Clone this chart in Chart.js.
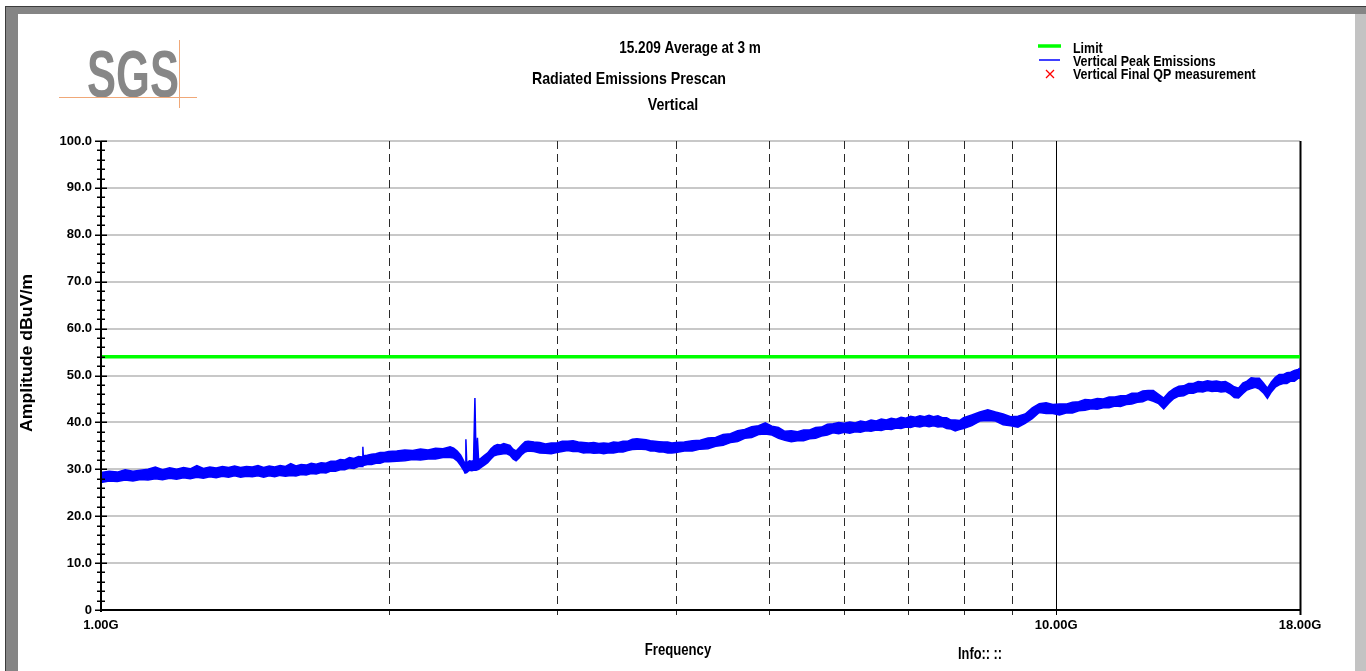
<!DOCTYPE html>
<html>
<head>
<meta charset="utf-8">
<title>Radiated Emissions Prescan</title>
<script src="https://cdn.jsdelivr.net/npm/chart.js@4.4.1/dist/chart.umd.min.js"></script>
<style>
    html, body { margin: 0; padding: 0; background: #fff; }
    #scanChart { display: block; }
</style>
</head>
<body>
<canvas id="scanChart" width="1366" height="671"></canvas>
<script>
// peak sweep bins, frequency in GHz
var peakFreq = [
    1.00, 1.02, 1.04, 1.06, 1.08, 1.10, 1.12, 1.14, 1.16, 1.18,
    1.20, 1.22, 1.24, 1.26, 1.28, 1.30, 1.32, 1.34, 1.36, 1.38,
    1.40, 1.42, 1.44, 1.46, 1.48, 1.50, 1.52, 1.54, 1.56, 1.58,
    1.60, 1.62, 1.64, 1.66, 1.68, 1.70, 1.72, 1.74, 1.76, 1.78,
    1.80, 1.82, 1.84, 1.86, 1.878, 1.880, 1.882, 1.90, 1.92, 1.94, 1.96, 1.98,
    2.00,
    2.04, 2.08, 2.12, 2.16, 2.20, 2.24, 2.28, 2.32, 2.34, 2.36,
    2.38, 2.40, 2.405, 2.41, 2.415, 2.43, 2.445, 2.455, 2.463, 2.47,
    2.478, 2.485, 2.50, 2.52, 2.54, 2.56, 2.58, 2.60, 2.62, 2.64,
    2.66, 2.68, 2.70, 2.72, 2.74, 2.76, 2.78, 2.80, 2.84, 2.88,
    2.92, 2.96, 3.00, 3.04, 3.08, 3.12, 3.16, 3.20, 3.24, 3.28,
    3.32, 3.36, 3.40, 3.44, 3.48, 3.52, 3.56, 3.60, 3.64, 3.68,
    3.72, 3.76, 3.80, 3.84, 3.88, 3.92, 3.96, 4.00,
    4.08, 4.16, 4.24, 4.32, 4.40, 4.48, 4.56, 4.64, 4.72, 4.80,
    4.88, 4.96, 5.04, 5.12, 5.20, 5.28, 5.36, 5.44, 5.52, 5.60,
    5.68, 5.76, 5.84, 5.92, 6.00, 6.08, 6.16, 6.24, 6.32, 6.40,
    6.48, 6.56, 6.64, 6.72, 6.80, 6.88, 6.96, 7.04, 7.12, 7.20,
    7.28, 7.36, 7.44, 7.52, 7.60, 7.68, 7.76, 7.84, 7.92, 8.00,
    8.16, 8.32, 8.48, 8.64, 8.80, 8.96, 9.12, 9.28, 9.44, 9.60,
    9.76, 9.92, 10.08, 10.24, 10.40, 10.56, 10.72, 10.88, 11.04, 11.20,
    11.36, 11.52, 11.68, 11.84, 12.00, 12.16, 12.32, 12.48, 12.64, 12.80,
    12.96, 13.12, 13.28, 13.44, 13.60, 13.76, 13.92, 14.08, 14.24, 14.40,
    14.56, 14.72, 14.88, 15.04, 15.20, 15.36, 15.52, 15.68, 15.84, 16.00,
    16.16, 16.32, 16.48, 16.64, 16.80, 16.96, 17.12, 17.28, 17.44, 17.60,
    17.76, 17.92, 18.00
];

// highest reading in each bin, dBuV/m
var peakHigh = [
    29.3, 29.6, 29.4, 29.9, 29.6, 29.8, 30.0, 30.5, 29.9, 30.3,
    30.0, 30.4, 30.1, 30.8, 30.2, 30.5, 30.3, 30.6, 30.4, 30.7,
    30.4, 30.6, 30.5, 30.8, 30.4, 30.7, 30.5, 30.8, 30.6, 31.2,
    30.7, 31.0, 30.9, 31.3, 31.1, 31.4, 31.3, 31.7, 31.7, 32.1,
    32.0, 32.5, 32.3, 32.7, 32.6, 34.8, 32.9, 33.0, 33.2, 33.3, 33.6, 33.6,
    33.8,
    33.9, 34.1, 34.0, 34.3, 34.1, 34.5, 34.4, 34.8, 34.5, 33.9,
    33.0, 31.6, 31.2, 36.4, 31.3, 31.8, 31.7, 31.9, 45.2, 31.8,
    36.7, 32.0, 32.4, 33.0, 33.5, 34.4, 35.0, 35.3, 35.2, 35.5,
    35.3, 35.1, 34.3, 33.9, 34.6, 35.3, 35.9, 36.0, 35.8, 35.7,
    35.4, 35.6, 35.6, 36.0, 36.0, 36.1, 35.8, 35.7, 35.6, 35.7,
    35.5, 35.6, 35.5, 35.8, 35.7, 36.0, 36.0, 36.4, 36.5, 36.4,
    36.3, 36.1, 36.0, 35.9, 35.8, 35.8, 35.6, 35.7,
    35.8, 36.1, 36.2, 36.7, 36.8, 37.4, 37.6, 38.2, 38.5, 39.1,
    39.3, 39.9, 39.2, 38.9, 38.1, 38.2, 38.0, 38.4, 38.4, 38.9,
    39.0, 39.6, 39.7, 40.0, 39.8, 40.1, 39.9, 40.3, 40.1, 40.5,
    40.3, 40.7, 40.5, 40.9, 40.7, 41.1, 40.9, 41.3, 41.1, 41.4,
    41.2, 41.5, 41.2, 41.4, 41.0, 41.0, 40.5, 40.5, 40.4, 41.0,
    41.6, 42.2, 42.7, 42.2, 41.8, 41.2, 41.3, 41.8, 43.1, 44.0,
    44.2, 43.8, 43.9, 43.9, 44.3, 44.4, 44.9, 44.8, 45.1, 45.0,
    45.4, 45.4, 45.7, 45.7, 46.2, 46.2, 46.7, 46.8, 46.8, 46.0,
    45.2, 46.4, 47.2, 47.7, 47.8, 48.3, 48.3, 48.7, 48.6, 48.9,
    48.7, 48.8, 48.6, 48.7, 48.2, 47.6, 47.3, 48.4, 48.8, 49.5,
    49.4, 49.4, 48.4, 47.3, 48.6, 49.6, 50.2, 50.2, 50.6, 50.7,
    51.1, 51.3, 51.6
];

// lowest reading in each bin, dBuV/m
var peakLow = [
    27.2, 27.5, 27.4, 27.7, 27.5, 27.8, 27.7, 28.0, 27.8, 28.1,
    27.9, 28.2, 28.0, 28.3, 28.1, 28.4, 28.2, 28.5, 28.3, 28.6,
    28.3, 28.5, 28.4, 28.6, 28.3, 28.6, 28.4, 28.7, 28.5, 28.7,
    28.6, 28.9, 28.8, 29.1, 29.0, 29.3, 29.2, 29.6, 29.6, 29.9,
    29.9, 30.3, 30.2, 30.6, 30.6, 30.7, 30.8, 31.0, 31.0, 31.3, 31.3, 31.6,
    31.6,
    31.7, 31.8, 32.1, 32.0, 32.2, 32.2, 32.5, 32.5, 32.4, 31.8,
    30.8, 29.6, 29.2, 29.2, 29.3, 29.8, 29.7, 29.8, 29.8, 29.8,
    29.9, 30.0, 30.4, 30.9, 31.4, 32.2, 32.9, 33.1, 33.2, 33.3,
    33.3, 33.0, 32.2, 31.8, 32.4, 33.2, 33.7, 33.9, 33.8, 33.5,
    33.4, 33.3, 33.6, 33.8, 34.0, 33.8, 33.8, 33.5, 33.6, 33.4,
    33.5, 33.3, 33.5, 33.5, 33.7, 33.7, 34.0, 34.2, 34.3, 34.3,
    34.2, 33.9, 33.9, 33.7, 33.7, 33.5, 33.5, 33.6,
    33.9, 33.9, 34.3, 34.4, 34.9, 35.1, 35.7, 35.9, 36.6, 36.8,
    37.4, 37.5, 37.3, 36.6, 36.2, 35.9, 36.1, 36.1, 36.5, 36.6,
    37.1, 37.3, 37.8, 37.6, 37.9, 37.7, 38.0, 37.9, 38.2, 38.1,
    38.4, 38.3, 38.6, 38.5, 38.8, 38.7, 39.0, 38.9, 39.2, 39.0,
    39.3, 39.1, 39.3, 39.0, 39.1, 38.7, 38.6, 38.2, 38.5, 38.7,
    39.3, 40.3, 40.4, 40.3, 39.5, 39.3, 39.0, 39.8, 40.8, 42.1,
    41.9, 41.9, 41.6, 42.0, 42.0, 42.5, 42.6, 42.9, 42.8, 43.1,
    43.1, 43.5, 43.4, 43.8, 43.9, 44.3, 44.4, 44.9, 44.5, 44.0,
    42.9, 44.1, 45.1, 45.6, 45.7, 46.2, 46.2, 46.6, 46.5, 46.8,
    46.6, 46.7, 46.5, 46.6, 46.1, 45.3, 45.2, 46.1, 46.9, 47.2,
    47.5, 47.1, 46.3, 45.1, 46.5, 47.5, 48.0, 48.3, 48.3, 48.8,
    48.8, 49.4, 49.4
];

var limitFreq = [1, 18];
var limitLevel = [54, 54];

// no final QP readings taken on this scan
var qpFreq = [];
var qpLevel = [];

var freqTicks = [1, 2, 3, 4, 5, 6, 7, 8, 9, 10, 18];
var freqLabels = { 1: '1.00G', 10: '10.00G', 18: '18.00G' };
var ampTicks = [0, 10, 20, 30, 40, 50, 60, 70, 80, 90, 100];

var FONT = 'Liberation Sans, Arial, sans-serif';

function points(xs, ys) {
    return xs.map(function (x, i) {
        return { x: x, y: ys[i] };
    });
}

// narrow bold text, squeezed horizontally
function drawLabel(ctx, text, x, y, size, squeeze, align) {
    ctx.save();
    ctx.font = 'bold ' + size + 'px ' + FONT;
    ctx.textBaseline = 'middle';
    ctx.textAlign = 'left';
    var w = ctx.measureText(text).width * squeeze;
    var left = align === 'center' ? x - w / 2 : (align === 'right' ? x - w : x);
    ctx.translate(left, y);
    ctx.scale(squeeze, 1);
    ctx.fillText(text, 0, 0);
    ctx.restore();
}

var scanDecor = {
    id: 'scanDecor',
    beforeDraw: function (chart) {
        var ctx = chart.ctx;
        ctx.save();
        ctx.fillStyle = '#ffffff';
        ctx.fillRect(0, 0, chart.width, chart.height);

        // window frame
        ctx.fillStyle = '#3c3c3c';
        ctx.fillRect(5, 6, 1361, 1);
        ctx.fillRect(5, 6, 1, 665);
        ctx.fillStyle = '#858585';
        ctx.fillRect(6, 7, 1360, 7);
        ctx.fillRect(6, 7, 12, 664);
        ctx.fillStyle = '#c3c3c3';
        ctx.fillRect(1355, 14, 11, 657);

        // logo
        ctx.fillStyle = '#878787';
        ctx.save();
        ctx.font = 'bold 66px ' + FONT;
        ctx.textBaseline = 'alphabetic';
        ctx.translate(87, 97);
        ctx.scale(0.66, 1);
        ctx.fillText('SGS', 0, 0);
        ctx.restore();
        ctx.strokeStyle = '#f0a878';
        ctx.lineWidth = 1;
        ctx.beginPath();
        ctx.moveTo(59, 97.5);
        ctx.lineTo(197, 97.5);
        ctx.moveTo(179.5, 40);
        ctx.lineTo(179.5, 108);
        ctx.stroke();

        // headings
        ctx.fillStyle = '#000000';
        drawLabel(ctx, '15.209 Average at 3 m', 690, 49, 16, 0.85, 'center');
        drawLabel(ctx, 'Radiated Emissions Prescan', 629, 79, 17, 0.835, 'center');
        drawLabel(ctx, 'Vertical', 673, 105, 17, 0.835, 'center');

        // legend
        ctx.lineCap = 'butt';
        ctx.strokeStyle = '#00ff00';
        ctx.lineWidth = 3.5;
        ctx.beginPath();
        ctx.moveTo(1038, 46);
        ctx.lineTo(1061, 46);
        ctx.stroke();
        ctx.strokeStyle = '#0000ff';
        ctx.lineWidth = 1.5;
        ctx.beginPath();
        ctx.moveTo(1039, 60);
        ctx.lineTo(1060, 60);
        ctx.stroke();
        ctx.strokeStyle = '#ff0000';
        ctx.lineWidth = 1.3;
        ctx.beginPath();
        ctx.moveTo(1046, 70);
        ctx.lineTo(1054, 78);
        ctx.moveTo(1054, 70);
        ctx.lineTo(1046, 78);
        ctx.stroke();
        drawLabel(ctx, 'Limit', 1073, 49, 15, 0.83, 'left');
        drawLabel(ctx, 'Vertical Peak Emissions', 1073, 62, 15, 0.83, 'left');
        drawLabel(ctx, 'Vertical Final QP measurement', 1073, 75, 15, 0.83, 'left');

        // axis titles
        drawLabel(ctx, 'Frequency', 678, 651, 16, 0.82, 'center');
        drawLabel(ctx, 'Info:: ::', 958, 655, 16, 0.8, 'left');
        ctx.save();
        ctx.translate(27, 353);
        ctx.rotate(-Math.PI / 2);
        drawLabel(ctx, 'Amplitude dBuV/m', 0, 0, 17, 1.04, 'center');
        ctx.restore();
        ctx.restore();
    },
    beforeDatasetsDraw: function (chart) {
        var ctx = chart.ctx;
        var xs = chart.scales.x;
        var area = chart.chartArea;
        ctx.save();
        freqTicks.forEach(function (f) {
            if (f === 1) {
                return;
            }
            var solid = f === 10 || f === 18;
            var px = Math.round(xs.getPixelForValue(f)) + 0.5;
            ctx.setLineDash(solid ? [] : [8, 5]);
            ctx.strokeStyle = solid ? '#000000' : '#2a2a2a';
            ctx.lineWidth = f === 18 ? 2 : 1;
            ctx.beginPath();
            ctx.moveTo(px, area.top);
            ctx.lineTo(px, area.bottom);
            ctx.stroke();
            // tick below the axis
            ctx.setLineDash([]);
            ctx.beginPath();
            ctx.moveTo(px, area.bottom);
            ctx.lineTo(px, area.bottom + 5);
            ctx.stroke();
        });
        ctx.restore();
    },
    afterDatasetsDraw: function (chart) {
        var ctx = chart.ctx;
        var ys = chart.scales.y;
        var area = chart.chartArea;
        ctx.save();
        ctx.strokeStyle = '#000000';
        ctx.lineWidth = 2;
        ctx.beginPath();
        ctx.moveTo(area.left, area.top);
        ctx.lineTo(area.left, area.bottom + 2);
        ctx.moveTo(area.left, area.bottom);
        ctx.lineTo(area.right + 1, area.bottom);
        ctx.stroke();

        // major and minor amplitude ticks
        ctx.lineWidth = 1.5;
        for (var v = 0; v <= 100; v += 2) {
            var py = Math.round(ys.getPixelForValue(v)) + 0.25;
            var half = v % 10 === 0 ? 6 : 4;
            ctx.beginPath();
            ctx.moveTo(area.left - half, py);
            ctx.lineTo(area.left + half, py);
            ctx.stroke();
        }
        ctx.restore();
    }
};

new Chart(document.getElementById('scanChart'), {
    type: 'line',
    data: {
        datasets: [{
            label: 'Limit',
            data: points(limitFreq, limitLevel),
            borderColor: '#00ff00',
            borderWidth: 3.5,
            pointRadius: 0,
            fill: false
        }, {
            label: 'Vertical Peak Emissions (low)',
            data: points(peakFreq, peakLow),
            borderColor: '#0000ff',
            borderWidth: 1.5,
            pointRadius: 0,
            fill: false
        }, {
            label: 'Vertical Peak Emissions',
            data: points(peakFreq, peakHigh),
            borderColor: '#0000ff',
            backgroundColor: '#0000ff',
            borderWidth: 1.5,
            pointRadius: 0,
            fill: '-1'
        }, {
            label: 'Vertical Final QP measurement',
            data: points(qpFreq, qpLevel),
            showLine: false,
            pointStyle: 'crossRot',
            pointRadius: 5,
            borderColor: '#ff0000'
        }]
    },
    options: {
        responsive: false,
        animation: false,
        devicePixelRatio: 1,
        layout: {
            padding: { left: 40, top: 141, right: 66, bottom: 0 }
        },
        elements: {
            line: { tension: 0 }
        },
        plugins: {
            legend: { display: false },
            tooltip: { enabled: false }
        },
        scales: {
            x: {
                type: 'logarithmic',
                min: 1,
                max: 18,
                afterBuildTicks: function (scale) {
                    scale.ticks = freqTicks.map(function (v) { return { value: v }; });
                },
                afterFit: function (scale) {
                    scale.height = 61;
                },
                grid: { display: false, drawTicks: false },
                border: { display: false },
                ticks: {
                    autoSkip: false,
                    maxRotation: 0,
                    padding: 8,
                    color: '#000000',
                    font: { family: FONT, size: 13, weight: 'bold' },
                    callback: function (v) {
                        return freqLabels[v] || '';
                    }
                }
            },
            y: {
                min: 0,
                max: 100,
                afterBuildTicks: function (scale) {
                    scale.ticks = ampTicks.map(function (v) { return { value: v }; });
                },
                afterFit: function (scale) {
                    scale.width = 61;
                },
                grid: { color: '#c8c8c8', lineWidth: 2, drawTicks: false },
                border: { display: false },
                ticks: {
                    padding: 9,
                    color: '#000000',
                    font: { family: FONT, size: 13, weight: 'bold' },
                    callback: function (v) {
                        return v === 0 ? '0' : v.toFixed(1);
                    }
                }
            }
        }
    },
    plugins: [scanDecor]
});
</script>
</body>
</html>
